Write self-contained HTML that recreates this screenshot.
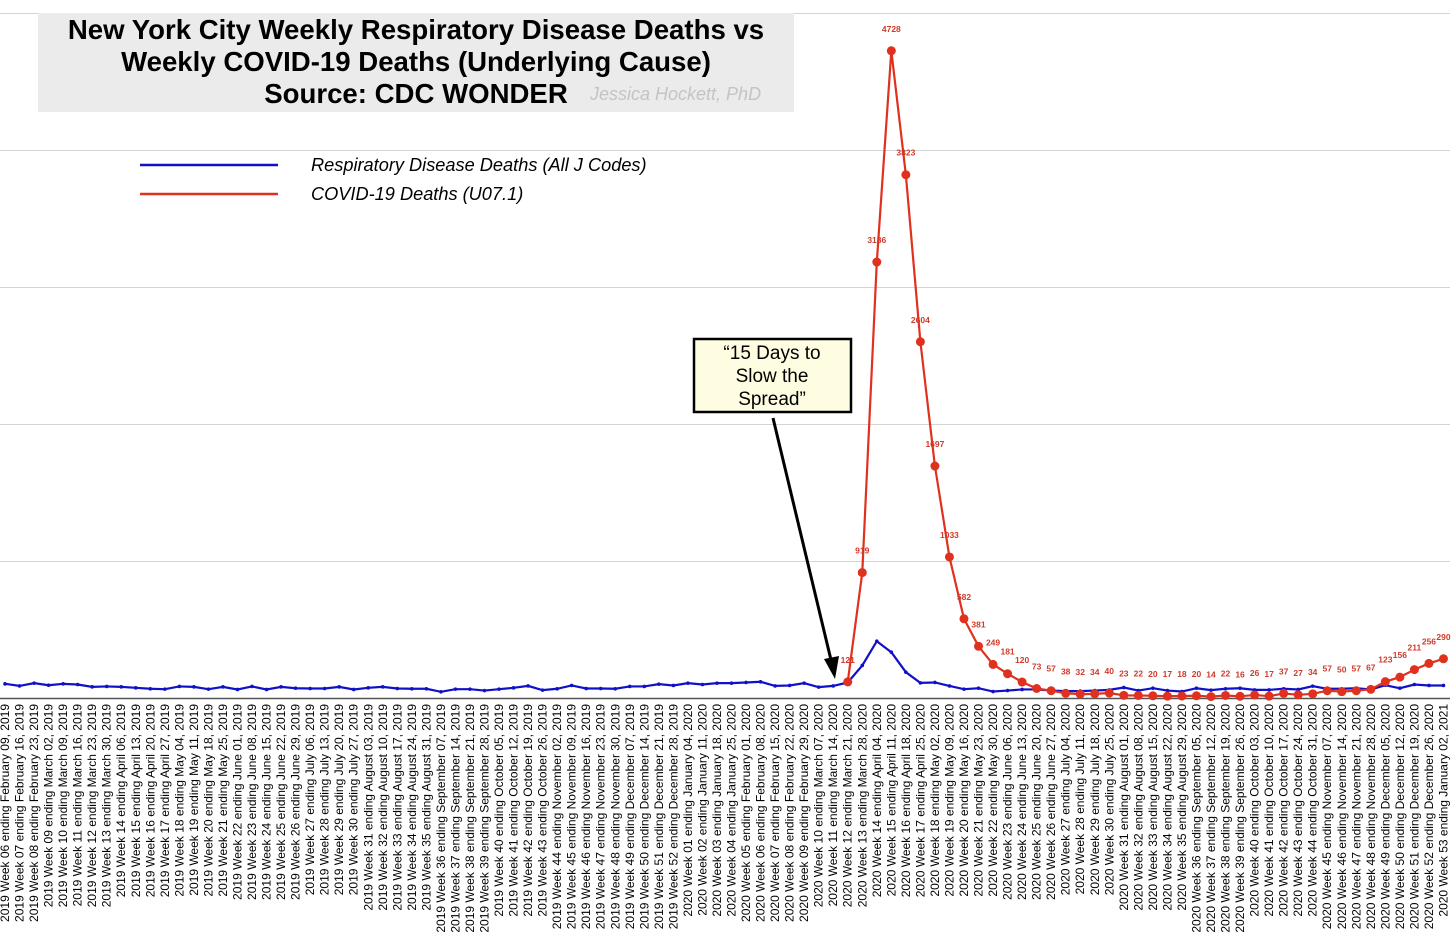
<!DOCTYPE html>
<html><head><meta charset="utf-8"><style>
body{margin:0;background:#fff;}
svg{display:block;font-family:"Liberation Sans",Arial,sans-serif;}
</style></head><body>
<svg id="chart" width="1456" height="936" viewBox="0 0 1456 936">
<g id="grid"></g>
<rect x="38" y="13" width="756" height="99" fill="#ebebeb"/>
<g font-weight="bold" font-size="27.6" fill="#000" text-anchor="middle">
<text x="416" y="39">New York City Weekly Respiratory Disease Deaths vs</text>
<text x="416" y="71">Weekly COVID-19 Deaths (Underlying Cause)</text>
<text x="416" y="103">Source: CDC WONDER</text>
</g>
<text x="590" y="100" font-size="18" font-style="italic" fill="#c4c4c4">Jessica Hockett, PhD</text>
<g>
<g>
<line x1="140" y1="165" x2="278" y2="165" stroke="#1010c8" stroke-width="2.5"/>
<text x="311" y="171" font-size="18.2" font-style="italic">Respiratory Disease Deaths (All J Codes)</text></g>
<g>
<line x1="140" y1="194" x2="278" y2="194" stroke="#e0301e" stroke-width="2.5"/>
<text x="311" y="200" font-size="18.2" font-style="italic">COVID-19 Deaths (U07.1)</text></g>
</g>
<line x1="0" y1="698.5" x2="1450" y2="698.5" stroke="#555" stroke-width="1.5"/>
<g id="xlabels"></g>
<g id="series"></g>
<g>
<line x1="773" y1="418" x2="831" y2="660" stroke="#000" stroke-width="3"/>
<polygon points="835,679 824,659 839,656" fill="#000"/>
<rect x="694" y="339" width="157" height="73" fill="#fefde2" stroke="#000" stroke-width="2.5"/>
<g font-size="19" text-anchor="middle" fill="#000">
<text x="772" y="359">“15 Days to</text>
<text x="772" y="382">Slow the</text>
<text x="772" y="405">Spread”</text>
</g>
</g>
</svg>
<script>
const months=["January","February","March","April","May","June","July","August","September","October","November","December"];
const categories=[];
(function(){let d=new Date(Date.UTC(2019,1,9));for(let i=0;i<100;i++){const y=i<47?2019:2020;const w=i<47?i+6:i-46;const yr=d.getUTCFullYear();categories.push(y+" Week "+String(w).padStart(2,"0")+" ending "+months[d.getUTCMonth()]+" "+String(d.getUTCDate()).padStart(2,"0")+", "+yr);d=new Date(d.getTime()+7*864e5);}})();
const respiratory=[107,92,112,97,107,102,85,88,85,78,71,68,88,85,68,85,66,88,66,85,75,73,73,85,66,78,85,73,71,71,49,68,68,58,68,78,92,61,71,95,73,73,71,88,88,105,95,112,102,112,112,117,122,92,95,112,83,92,117,241,418,338,192,114,117,92,68,75,51,58,66,66,58,54,54,58,63,80,58,75,58,51,75,61,71,75,63,63,71,66,90,71,71,75,66,97,75,102,95,95];
const covidStart=58;
const covid=[121,919,3186,4728,3823,2604,1697,1033,582,381,249,181,120,73,57,38,32,34,40,23,22,20,17,18,20,14,22,16,26,17,37,27,34,57,50,57,67,123,156,211,256,290];
const gridValues=[0,1000,2000,3000,4000,5000];
const NS="http://www.w3.org/2000/svg";
const x=i=>5+i*14.53;
const y=v=>698.5-v*0.137;
function mk(tag,attrs,parent){const e=document.createElementNS(NS,tag);for(const k in attrs)e.setAttribute(k,attrs[k]);parent.appendChild(e);return e;}
const grid=document.getElementById('grid');
gridValues.forEach(v=>{if(v===0)return;const l=mk('line',{x1:0,x2:1450,y1:y(v),y2:y(v),stroke:'#d4d4d4','stroke-width':1},grid);

});
const xl=document.getElementById('xlabels');
categories.forEach((c,i)=>{const t=mk('text',{transform:`translate(${x(i)+4},704) rotate(-90)`,'text-anchor':'end','font-size':12,fill:'#000'},xl);t.textContent=c;

});
const s=document.getElementById('series');
const bp=mk('polyline',{points:respiratory.map((v,i)=>x(i)+','+y(v)).join(' '),fill:'none',stroke:'#1010c8','stroke-width':2.2},s);


respiratory.forEach((v,i)=>{const c=mk('circle',{cx:x(i),cy:y(v),r:1.8,fill:'#1010c8'},s);

});
const rp=mk('polyline',{points:covid.map((v,i)=>x(i+covidStart)+','+y(v)).join(' '),fill:'none',stroke:'#e0301e','stroke-width':2.2},s);


covid.forEach((v,i)=>{const cx=x(i+covidStart),cy=y(v);
const c=mk('circle',{cx:cx,cy:cy,r:4.5,fill:'#e0301e'},s);


const t=mk('text',{x:cx,y:cy-19,'text-anchor':'middle','font-size':8.5,'font-weight':'bold',fill:'#d03a2a'},s);t.textContent=v;

});
</script>
</body></html>
